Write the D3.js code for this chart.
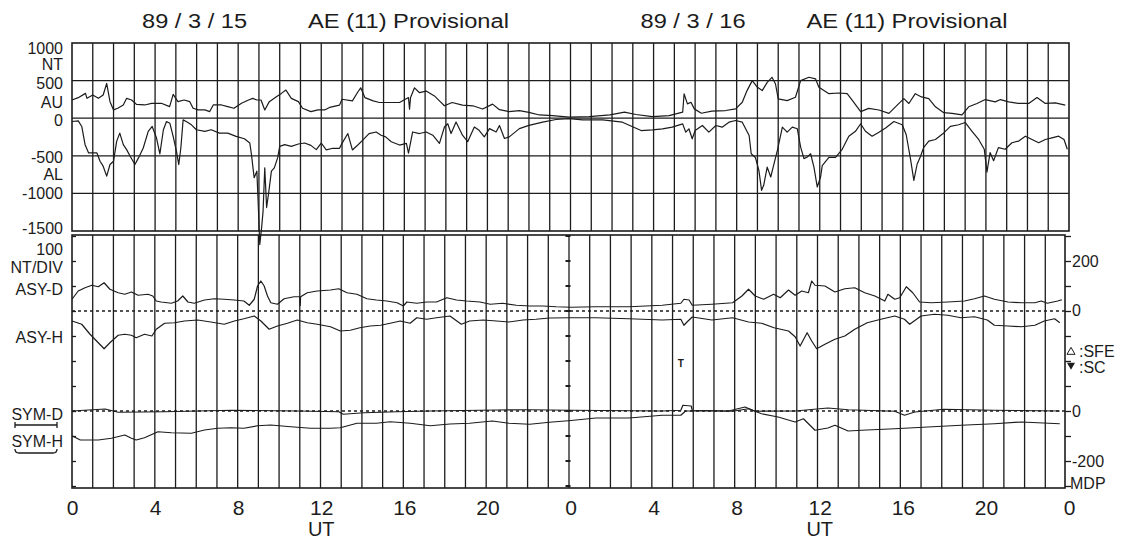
<!DOCTYPE html>
<html>
<head>
<meta charset="utf-8">
<script src="https://cdn.jsdelivr.net/npm/d3@7/dist/d3.min.js"></script>
<style>
    body { margin: 0; background: #fff; }
    svg text { font-family: "Liberation Sans", Arial, sans-serif; fill: #1c1c1c; }
</style>
</head>
<body>
<div id="chart"></div>
<script>
// ---- data (hour of the 2-day record, value in nT) ----
const dayTitles = ['89 / 3 / 15', '89 / 3 / 16'];
const indexTitle = 'AE (11) Provisional';
const hourTicks = [0, 4, 8, 12, 16, 20, 24, 28, 32, 36, 40, 44, 48];
const aeTicks = [1000, 500, 0, -500, -1000, -1500];

const auSeries = [[0,242],[0.3,273],[0.65,330],[0.72,264],[1.0,308],[1.27,264],[1.5,308],[1.67,462],[1.83,220],[2.0,110],[2.2,132],[2.47,176],[2.63,264],[2.87,242],[3.1,185],[3.5,176],[3.83,198],[4.3,198],[4.7,154],[4.87,317],[5.1,220],[5.4,242],[5.67,220],[5.83,132],[6.07,110],[6.4,110],[6.63,88],[6.8,176],[7.2,176],[7.5,154],[7.8,132],[8.16,198],[8.5,242],[8.7,264],[8.9,242],[9.1,242],[9.28,110],[9.5,220],[9.84,286],[10.08,330],[10.3,374],[10.56,264],[10.9,220],[11.1,132],[11.5,88],[11.84,110],[12.16,110],[12.4,143],[12.88,174],[13.0,252],[13.5,230],[13.76,348],[13.9,404],[14.1,274],[14.5,230],[14.8,209],[15.1,209],[15.77,209],[16.2,274],[16.25,120],[16.3,274],[16.49,404],[16.73,339],[17.05,361],[17.45,296],[17.69,230],[17.93,165],[18.3,209],[18.8,174],[19.3,165],[19.77,122],[20.25,187],[20.58,113],[21.05,87],[21.54,100],[22.0,78],[22.5,43],[23.14,35],[23.94,13],[24.9,22],[25.9,44],[26.6,80],[27.15,49],[27.95,22],[28.75,35],[29.4,80],[29.47,323],[29.63,190],[29.8,212],[29.96,124],[30.3,66],[30.8,93],[31.47,102],[31.95,124],[32.27,212],[32.5,367],[32.75,500],[33.0,411],[33.23,367],[33.47,477],[33.7,544],[33.87,455],[34.0,256],[34.43,234],[34.83,278],[35.08,500],[35.48,544],[35.8,522],[35.96,411],[36.44,326],[36.92,335],[37.32,326],[37.56,239],[37.97,87],[38.36,130],[38.85,109],[39.33,65],[39.73,174],[40.05,261],[40.29,196],[40.6,326],[40.9,283],[41.25,261],[41.57,152],[41.97,74],[42.37,65],[42.85,44],[43.17,152],[43.57,196],[43.97,248],[44.45,217],[44.7,248],[45.1,217],[45.58,196],[46.06,196],[46.46,274],[46.86,196],[47.34,204],[47.82,174]];

const alSeries = [[0,-44],[0.3,-35],[0.47,-110],[0.63,-352],[0.8,-462],[0.96,-462],[1.2,-462],[1.35,-572],[1.5,-638],[1.67,-770],[1.83,-616],[2.0,-572],[2.15,-308],[2.3,-198],[2.47,-352],[2.63,-418],[2.8,-506],[3.03,-616],[3.2,-528],[3.43,-396],[3.67,-176],[3.86,-110],[4.07,-264],[4.23,-475],[4.4,-154],[4.55,-44],[4.71,-66],[4.87,-242],[5.03,-440],[5.14,-616],[5.24,-396],[5.35,-22],[5.5,-44],[5.75,-88],[5.99,-154],[6.4,-176],[6.7,-154],[7.1,-198],[7.5,-198],[7.9,-242],[8.3,-273],[8.56,-330],[8.64,-484],[8.77,-792],[8.9,-704],[8.96,-1100],[9.04,-1680],[9.13,-1452],[9.2,-1232],[9.28,-660],[9.37,-1188],[9.48,-968],[9.6,-704],[9.74,-660],[9.9,-528],[10.0,-374],[10.24,-352],[10.56,-374],[10.9,-343],[11.2,-330],[11.5,-361],[11.76,-418],[12.0,-330],[12.24,-422],[12.56,-400],[12.88,-400],[13.0,-335],[13.28,-204],[13.5,-422],[13.76,-357],[14.0,-291],[14.3,-204],[14.64,-183],[14.88,-226],[15.1,-248],[15.37,-313],[15.77,-357],[16.1,-335],[16.2,-465],[16.4,-183],[16.73,-204],[17.05,-183],[17.37,-226],[17.69,-335],[17.93,-117],[18.09,-74],[18.25,-204],[18.49,-52],[18.8,-226],[19.05,-313],[19.37,-117],[19.6,-161],[19.85,-248],[20.1,-139],[20.42,-183],[20.58,-96],[20.82,-270],[21.05,-248],[21.54,-139],[22.0,-96],[22.66,-52],[23.3,-17],[23.94,-5],[24.58,-22],[25.55,-22],[26.5,-53],[27.4,-164],[27.95,-155],[28.43,-141],[28.9,-119],[29.4,-75],[29.55,-186],[29.7,-141],[29.86,-274],[30.0,-164],[30.35,-97],[30.66,-186],[31.0,-97],[31.3,-119],[31.63,-53],[31.95,-31],[32.27,-53],[32.6,-230],[32.7,-473],[32.9,-522],[33.07,-694],[33.2,-959],[33.3,-893],[33.47,-650],[33.64,-782],[33.8,-605],[33.96,-429],[34.2,-119],[34.43,-186],[34.68,-119],[34.92,-141],[35.08,-384],[35.24,-538],[35.4,-517],[35.56,-473],[35.72,-650],[35.88,-915],[36.04,-782],[36.12,-630],[36.44,-522],[36.76,-522],[37.08,-413],[37.4,-239],[37.72,-174],[37.97,-74],[38.2,-174],[38.52,-239],[38.85,-187],[39.17,-130],[39.57,-44],[39.97,-87],[40.16,-217],[40.37,-544],[40.53,-826],[40.69,-609],[40.85,-509],[41.0,-391],[41.25,-304],[41.57,-283],[41.97,-196],[42.29,-109],[42.69,-87],[43.0,-57],[43.33,-174],[43.65,-283],[43.92,-413],[44.05,-718],[44.2,-457],[44.37,-565],[44.6,-391],[44.93,-413],[45.25,-326],[45.58,-304],[45.9,-239],[46.22,-283],[46.54,-326],[46.86,-283],[47.18,-261],[47.5,-239],[47.76,-283],[47.92,-413]];

const asyDSeries = [[0,47],[0.3,80],[0.63,93],[0.96,103],[1.27,97],[1.55,113],[1.83,87],[2.23,73],[2.55,67],[2.87,76],[3.19,63],[3.67,67],[3.9,60],[4.07,40],[4.3,36],[4.8,31],[5.1,40],[5.35,60],[5.6,36],[5.9,31],[6.4,44],[6.87,49],[7.35,47],[7.84,44],[8.3,40],[8.56,23],[8.8,47],[8.96,100],[9.12,120],[9.28,100],[9.44,60],[9.6,33],[9.92,27],[10.24,49],[10.72,57],[11.0,57],[11.02,22],[11.04,57],[11.36,73],[11.84,80],[12.48,84],[12.88,89],[13.28,73],[13.76,67],[14.24,49],[14.7,44],[15.2,40],[15.7,33],[16.0,20],[16.17,36],[16.65,31],[17.13,36],[17.6,36],[18.1,53],[18.57,44],[19.05,40],[19.7,36],[20.2,27],[20.8,31],[21.46,23],[22.1,20],[22.74,20],[23.38,17],[24.1,15],[25.3,17],[26.9,17],[28.5,23],[29.4,31],[29.55,47],[29.8,44],[29.95,23],[30.9,27],[31.9,33],[32.35,60],[32.67,87],[32.99,60],[33.4,47],[33.88,67],[34.2,53],[34.6,84],[34.92,63],[35.24,80],[35.56,73],[35.72,120],[35.88,103],[36.36,100],[36.84,76],[37.32,89],[37.8,93],[38.28,73],[38.77,60],[39.25,40],[39.4,67],[39.73,47],[39.97,53],[40.29,97],[40.6,73],[40.93,36],[41.49,33],[42.29,36],[43.1,40],[43.58,49],[44.06,60],[44.54,47],[45.2,36],[45.85,33],[46.5,33],[46.8,40],[47.1,31],[47.6,40],[47.8,45]];

const asyHSeries = [[0,-40],[0.47,-53],[0.87,-93],[1.27,-127],[1.55,-151],[1.83,-127],[2.23,-97],[2.55,-93],[2.87,-97],[3.1,-107],[3.5,-93],[3.86,-100],[4.07,-73],[4.47,-49],[4.95,-47],[5.43,-40],[6.07,-36],[6.7,-44],[7.35,-53],[7.84,-40],[8.3,-31],[8.8,-20],[9.12,-40],[9.52,-73],[9.92,-60],[10.4,-49],[10.88,-36],[11.36,-47],[11.84,-53],[12.48,-63],[12.96,-80],[13.44,-77],[13.9,-67],[14.4,-60],[14.9,-57],[15.37,-49],[15.85,-40],[16.33,-49],[16.65,-27],[17.13,-33],[17.6,-27],[18.25,-20],[18.8,-53],[19.2,-40],[19.85,-36],[20.5,-40],[21.1,-44],[21.78,-36],[22.4,-33],[23.06,-28],[24.1,-27],[25.3,-27],[26.9,-31],[28.5,-36],[29.4,-33],[29.55,-57],[29.7,-44],[29.95,-24],[30.9,-36],[31.9,-27],[32.67,-44],[33.3,-49],[33.9,-67],[34.6,-80],[34.92,-103],[35.16,-140],[35.5,-87],[35.72,-120],[35.96,-151],[36.36,-133],[36.84,-113],[37.32,-100],[37.8,-73],[38.4,-47],[39.06,-33],[39.73,-20],[40.2,-33],[40.45,-53],[41.0,-20],[41.65,-13],[42.29,-17],[42.93,-27],[43.58,-23],[44.2,-36],[44.54,-57],[45.2,-60],[45.85,-63],[46.5,-57],[46.95,-40],[47.45,-31],[47.7,-47]];

const symDSeries = [[0,0],[1.6,8],[2.23,-5],[4.47,-3],[7.7,3],[10.9,0],[12.88,-3],[13.1,-13],[14.1,-7],[15.7,-3],[17.3,0],[20.5,4],[22.1,5],[24.1,3],[28.5,0],[29.4,3],[29.5,23],[29.9,20],[29.95,3],[31.7,0],[32.5,16],[32.99,-1],[34.92,0],[36.5,12],[37.48,5],[39.73,-1],[40.2,-17],[40.7,-4],[42.1,7],[44.54,3],[47.7,0]];

const symHSeries = [[0,-99],[0.4,-116],[1.27,-116],[1.9,-109],[2.55,-96],[2.87,-109],[3.1,-116],[3.5,-107],[4.15,-83],[4.8,-87],[5.76,-89],[6.4,-76],[7.04,-69],[7.68,-67],[8.3,-69],[8.96,-59],[9.6,-56],[10.56,-63],[11.52,-69],[12.48,-69],[12.96,-67],[13.76,-49],[14.7,-49],[15.37,-43],[16.33,-49],[17.3,-59],[18.25,-52],[19.2,-49],[20.3,-40],[21.1,-49],[22.1,-53],[23.06,-45],[24.1,-38],[25.3,-28],[26.9,-28],[28.5,-17],[29.4,-17],[29.63,0],[30.9,0],[31.9,-1],[32.67,9],[33.3,-11],[34.1,-24],[34.92,-44],[35.32,-31],[35.88,-77],[36.5,-68],[36.84,-57],[37.48,-80],[38.12,-77],[39.73,-71],[41.33,-64],[42.93,-57],[44.54,-51],[45.85,-44],[47.7,-51]];

const scEvents = [29.4];

// ---- layout ----
const width = 1122, height = 540;
const ink = '#1c1c1c';
const symOffset = -400;   // SYM traces share the lower panel, 4 divisions below ASY

const svg = d3.select('#chart').append('svg')
    .attr('width', width)
    .attr('height', height);

// scales
const x = d3.scaleLinear().domain([0, 48]).range([72, 1069]);
const yTop = d3.scaleLinear().domain([-1500, 1000]).range([231, 43]);
const yBot = d3.scaleLinear().domain([-708, 304]).range([488, 235]);
const botRight = 1065;
// lower panel is a touch narrower in the scan
const xb = t => x(t) - (t / 48) * 3;

// ---- titles ----
[0, 1].forEach(d => {
    svg.append('text').attr('x', x(d * 24 + 5.9)).attr('y', 28)
        .attr('text-anchor', 'middle').style('font-size', '20px')
        .attr('textLength', 105).attr('lengthAdjust', 'spacingAndGlyphs')
        .text(dayTitles[d]);
    svg.append('text').attr('x', x(d * 24 + 16.2)).attr('y', 28)
        .attr('text-anchor', 'middle').style('font-size', '20px')
        .attr('textLength', 201).attr('lengthAdjust', 'spacingAndGlyphs')
        .text(indexTitle);
});

// ---- grids ----
const hours = d3.range(1, 48);
const grid = svg.append('g').attr('stroke', ink).attr('stroke-width', 1.3);

// top panel
grid.selectAll('.vtop').data(hours).enter().append('line')
    .attr('x1', d => x(d)).attr('x2', d => x(d))
    .attr('y1', yTop(1000)).attr('y2', yTop(-1500));
grid.selectAll('.htop').data([500, 0, -500, -1000]).enter().append('line')
    .attr('x1', x(0)).attr('x2', x(48))
    .attr('y1', d => yTop(d)).attr('y2', d => yTop(d));
grid.append('rect')
    .attr('x', x(0)).attr('y', yTop(1000))
    .attr('width', x(48) - x(0)).attr('height', yTop(-1500) - yTop(1000))
    .attr('fill', 'none').attr('stroke-width', 1.6);

// bottom panel
grid.selectAll('.vbot').data(hours).enter().append('line')
    .attr('x1', d => xb(d)).attr('x2', d => xb(d))
    .attr('y1', yBot(304)).attr('y2', yBot(-708));
grid.append('rect')
    .attr('x', x(0)).attr('y', yBot(304))
    .attr('width', botRight - x(0)).attr('height', yBot(-708) - yBot(304))
    .attr('fill', 'none').attr('stroke-width', 1.6);

// zero reference lines (dotted)
svg.selectAll('.zero').data([0, symOffset]).enter().append('line')
    .attr('x1', x(0)).attr('x2', botRight)
    .attr('y1', d => yBot(d)).attr('y2', d => yBot(d))
    .attr('stroke', ink).attr('stroke-width', 1.3)
    .attr('stroke-dasharray', '3,3');

// division ticks of bottom panel: left inside, right outside, day boundary dots
const divs = d3.range(-700, 301, 100);
const axisBotLeft = d3.axisLeft(yBot).tickValues(divs).tickSize(-4).tickFormat('');
svg.append('g').attr('transform', `translate(${x(0)},0)`).call(axisBotLeft)
    .call(g => g.select('.domain').remove());
const axisBotRight = d3.axisRight(yBot).tickValues(divs).tickSize(6).tickFormat('');
svg.append('g').attr('transform', `translate(${botRight},0)`).call(axisBotRight)
    .call(g => g.select('.domain').remove());
svg.selectAll('.daydot').data(divs).enter().append('line')
    .attr('x1', xb(24) - 3.5).attr('x2', xb(24) + 1.5)
    .attr('y1', d => yBot(d)).attr('y2', d => yBot(d))
    .attr('stroke', ink).attr('stroke-width', 2);
svg.selectAll('g.tick line').attr('stroke', ink).attr('stroke-width', 1.3);

// ---- traces ----
const lineTop = d3.line().x(d => x(d[0])).y(d => yTop(d[1]));
const lineAsy = d3.line().x(d => xb(d[0])).y(d => yBot(d[1]));
const lineSym = d3.line().x(d => xb(d[0])).y(d => yBot(d[1] + symOffset));

const traces = [
    {data: auSeries, gen: lineTop},
    {data: alSeries, gen: lineTop},
    {data: asyDSeries, gen: lineAsy},
    {data: asyHSeries, gen: lineAsy},
    {data: symDSeries, gen: lineSym},
    {data: symHSeries, gen: lineSym}
];
svg.append('g').selectAll('path').data(traces).enter().append('path')
    .attr('d', d => d.gen(d.data))
    .attr('fill', 'none')
    .attr('stroke', ink)
    .attr('stroke-width', 1.2)
    .attr('stroke-linejoin', 'round');

// SC marker
svg.selectAll('.sc').data(scEvents).enter().append('text')
    .attr('x', d => xb(d)).attr('y', yBot(-225))
    .attr('text-anchor', 'middle')
    .style('font-size', '10px').style('font-weight', 'bold')
    .text('T');

// ---- axes labels ----
// x axis: hour labels
const axisX = d3.axisBottom(x).tickValues(hourTicks).tickSize(0).tickPadding(0)
    .tickFormat(d => String(d % 24));
svg.append('g').attr('transform', 'translate(0,499)').call(axisX)
    .call(g => g.select('.domain').remove())
    .selectAll('text')
    .attr('fill', ink).attr('dy', '0.75em')
    .style('font-size', '21px');
svg.selectAll('.ut').data([12, 36]).enter().append('text')
    .attr('x', d => x(d)).attr('y', 536)
    .attr('text-anchor', 'middle').style('font-size', '20px').text('UT');

// top panel y labels
const labelShift = {'1000': 10, '500': 7.5, '0': 7, '-500': 6.3, '-1000': 5, '-1500': 2.5};
const axisY = d3.axisLeft(yTop).tickValues(aeTicks).tickSize(0).tickPadding(9)
    .tickFormat(d => String(d));
svg.append('g').attr('transform', `translate(${x(0)},0)`).call(axisY)
    .call(g => g.select('.domain').remove())
    .selectAll('text')
    .attr('fill', ink)
    .attr('dy', d => labelShift[String(d)])
    .style('font-size', '16px');

const leftTexts = [
    {t: 'NT', y: 70, s: 16}, {t: 'AU', y: 108, s: 16}, {t: 'AL', y: 180, s: 16},
    {t: '100', y: 255, s: 16}, {t: 'NT/DIV', y: 273, s: 16},
    {t: 'ASY-D', y: 295, s: 16}, {t: 'ASY-H', y: 343, s: 16},
    {t: 'SYM-D', y: 420, s: 16}, {t: 'SYM-H', y: 447, s: 16}
];
svg.selectAll('.ltxt').data(leftTexts).enter().append('text')
    .attr('x', 63).attr('y', d => d.y)
    .attr('text-anchor', 'end')
    .style('font-size', d => d.s + 'px')
    .text(d => d.t);

// SYM legend brackets
svg.append('path')
    .attr('d', 'M15,422 L15,428 M15,425 L57,425 M57,422 L57,428')
    .attr('fill', 'none').attr('stroke', ink).attr('stroke-width', 1.3);
svg.append('path')
    .attr('d', 'M15,449 Q15,453 19,453 L53,453 Q57,453 57,449')
    .attr('fill', 'none').attr('stroke', ink).attr('stroke-width', 1.3);

// right axis labels of the lower panel
const rightTexts = [
    {t: '200', v: 200, dy: 6}, {t: '0', v: 0, dy: 5},
    {t: '0', v: symOffset, dy: 6}, {t: '-200', v: symOffset - 200, dy: 6}
];
svg.selectAll('.rtxt').data(rightTexts).enter().append('text')
    .attr('x', 1072).attr('y', d => yBot(d.v) + d.dy)
    .style('font-size', '16px')
    .text(d => d.t);
svg.append('text').attr('x', 1070).attr('y', 489).style('font-size', '16px').text('MDP');

// event legend
svg.append('path')
    .attr('d', d3.symbol(d3.symbolTriangle, 28)())
    .attr('transform', 'translate(1071,352)')
    .attr('fill', 'none').attr('stroke', ink).attr('stroke-width', 1);
svg.append('path')
    .attr('d', d3.symbol(d3.symbolTriangle, 28)())
    .attr('transform', 'translate(1071,365) rotate(180)')
    .attr('fill', ink);
svg.append('text').attr('x', 1079).attr('y', 357).style('font-size', '16px').text(':SFE');
svg.append('text').attr('x', 1079).attr('y', 373).style('font-size', '16px').text(':SC');
</script>
</body>
</html>
